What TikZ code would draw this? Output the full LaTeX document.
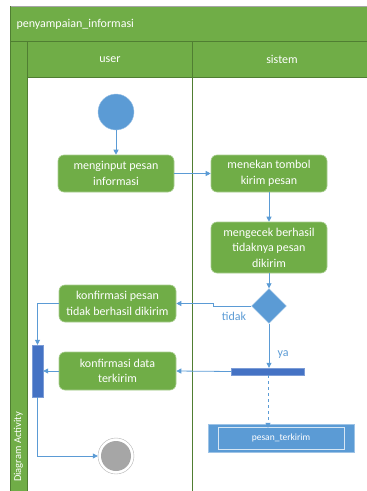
\documentclass[tikz,border=0pt]{standalone}
\usepackage{fontspec}
\setmainfont{Carlito}
\usetikzlibrary{arrows.meta,shapes.geometric}
\definecolor{ogreen}{HTML}{70AD47}
\definecolor{dgreen}{HTML}{507E32}
\definecolor{oblue}{HTML}{5B9BD5}
\definecolor{dblue}{HTML}{4472C4}
\begin{document}
\begin{tikzpicture}[x=1pt,y=-1pt,
  act/.style={rectangle, rounded corners=6pt, fill=ogreen, draw=ogreen!60!white, line width=0.6pt, text=white, align=center, font=\fontsize{12}{15.5}\selectfont, inner sep=0pt},
  flow/.style={draw=oblue, line width=0.8pt, -{Triangle[length=5pt,width=5pt]}},
  bar/.style={rectangle, fill=dblue, draw=dblue!70!white, inner sep=0pt},
  hdr/.style={text=white, font=\fontsize{12}{14}\selectfont},
  lbl/.style={text=oblue, font=\fontsize{12}{14}\selectfont}]
\useasboundingbox (0,0) rectangle (367,491);
% frame
\fill[ogreen] (10,6) rectangle (367,77);
\fill[ogreen] (10,41) rectangle (27,491);
\draw[gray!70, line width=0.8pt] (10,6) -- (367,6);
\draw[dgreen, line width=0.8pt] (10,6) -- (10,491);
\draw[dgreen, line width=0.8pt] (10,41) -- (367,41);
\draw[dgreen, line width=0.6pt] (27,77) -- (367,77);
\draw[dgreen, line width=0.8pt] (27,41) -- (27,491);
\draw[dgreen, line width=0.8pt] (192,41) -- (192,491);
\node[hdr, anchor=west] (title) at (13,24) {penyampaian\_informasi};
\node[hdr] (luser) at (110,59.5) {user};
\node[hdr] (lsis) at (282,59.5) {sistem};
\node[text=white, font=\fontsize{10.5}{12}\selectfont, rotate=90] (side) at (18.5,447) {Diagram Activity};
% nodes
\node[circle, fill=oblue, draw=oblue!60!white, minimum size=36pt, inner sep=0pt] (start) at (116,112) {};
\node[act, minimum width=116pt, minimum height=37pt] (n1) at (116,173.5) {menginput pesan\\informasi};
\node[act, minimum width=116pt, minimum height=37pt] (n2) at (269,173.5) {menekan tombol\\kirim pesan};
\node[act, minimum width=116pt, minimum height=51pt] (n3) at (269,247.5) {mengecek berhasil\\tidaknya pesan\\dikirim};
\node[diamond, fill=oblue, draw=oblue!60!white, minimum width=35pt, minimum height=35pt, inner sep=0pt] (dia) at (269,306) {};
\node[act, minimum width=117pt, minimum height=37pt] (n4) at (117.5,303.5) {konfirmasi pesan\\tidak berhasil dikirim};
\node[act, minimum width=117pt, minimum height=38pt] (n5) at (117.5,371) {konfirmasi data\\terkirim};
\node[bar, minimum width=73pt, minimum height=7pt] (hbar) at (268,371.5) {};
\node[bar, minimum width=11pt, minimum height=52pt] (vbar) at (37.5,371) {};
\node[rectangle, fill=oblue, draw=oblue!60!white, minimum width=146pt, minimum height=28pt, inner sep=0pt] (obj) at (281,438) {};
\node[rectangle, draw=white!75!oblue, line width=0.6pt, minimum width=126pt, minimum height=22pt, text=white, font=\fontsize{9.5}{11}\selectfont, inner sep=0pt] (objin) at (281,438) {pesan\_terkirim};
\node[circle, fill=white, draw=gray!60, minimum size=36pt, inner sep=0pt] (end) at (116,456) {};
\node[circle, fill=gray!70, minimum size=30pt, inner sep=0pt] (endin) at (116,456) {};
% connectors
\draw[flow] (start) -- (n1);
\draw[flow] (n1) -- (n2);
\draw[flow] (n2) -- (n3);
\draw[flow] (n3) -- (dia);
\draw[flow] (dia.west) -- ++(-38,0) |- (n4.east);
\node[lbl] (ltidak) at (234,316) {tidak};
\draw[flow] (n4.west) -| (vbar.north);
\draw[flow] (dia.south) -- (dia.south |- hbar.north);
\node[lbl] (lya) at (283,355) {ya};
\draw[flow] (hbar.west) -- (n5.east);
\draw[flow] (n5.west) -- (vbar.east);
\draw[flow, dashed] (hbar.south) -- ([yshift=-4pt]hbar.south |- obj.north);
\draw[flow] (vbar.south) |- (end.west);
\end{tikzpicture}
\end{document}
